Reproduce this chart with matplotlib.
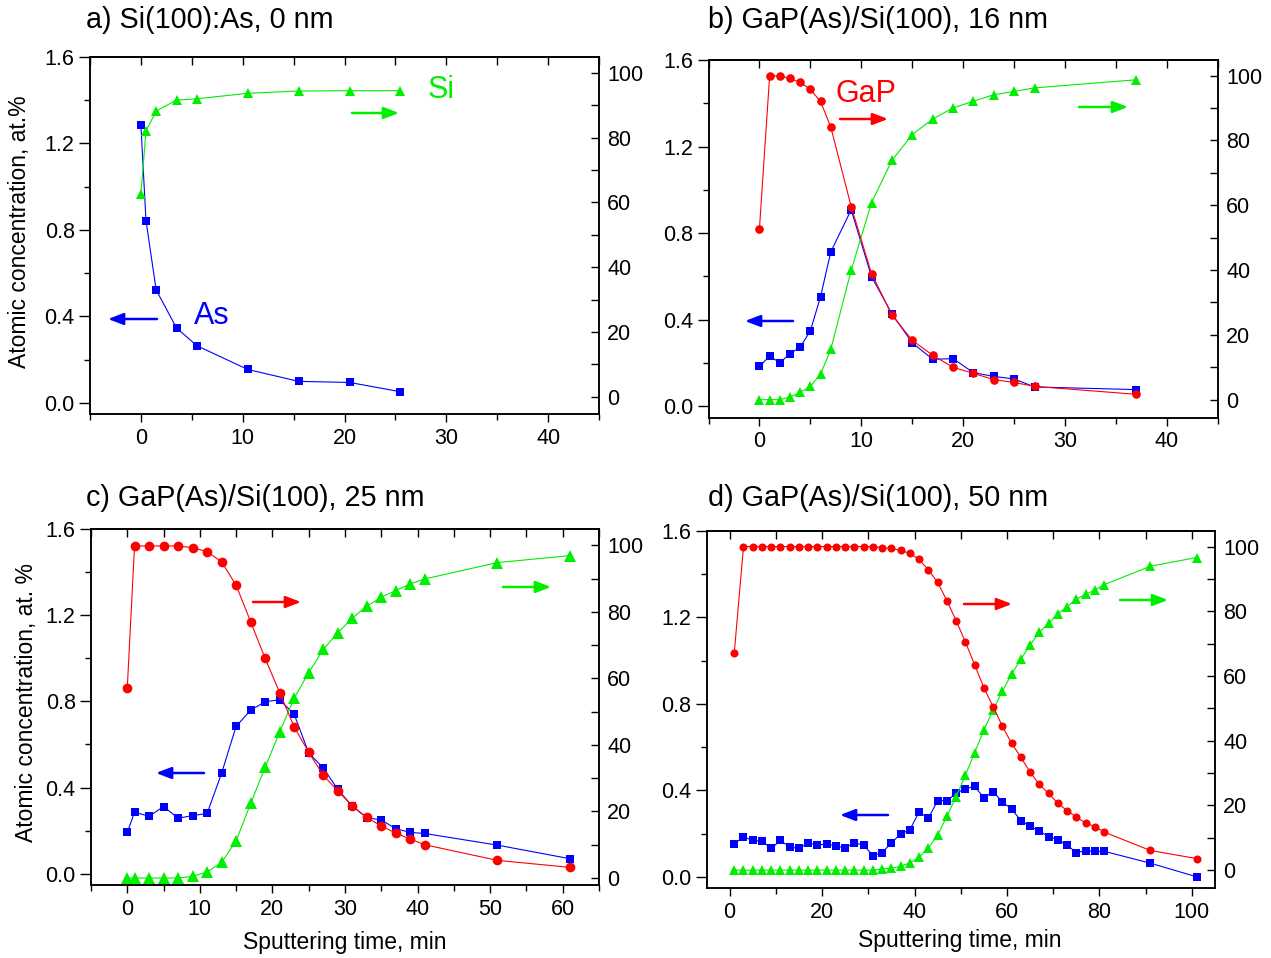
import matplotlib
matplotlib.use("Agg")
import matplotlib.pyplot as plt
from matplotlib.ticker import MultipleLocator, FormatStrFormatter

plt.rcParams['font.family'] = ['Liberation Sans', 'DejaVu Sans']

W, H = 1271, 958

# ---------------- data ----------------
# panel a : Si(100):As, 0 nm
a_time = [0, 0.5, 1.5, 3.5, 5.5, 10.5, 15.5, 20.5, 25.5]
a_As = [1.285, 0.843, 0.522, 0.346, 0.264, 0.154, 0.099, 0.094, 0.051]
a_Si = [62.5, 82.1, 88.2, 91.6, 92.0, 93.7, 94.4, 94.5, 94.5]

# panel b : GaP(As)/Si(100), 16 nm
b_time = [0, 1, 2, 3, 4, 5, 6, 7, 9, 11, 13, 15, 17, 19, 21, 23, 25, 27, 37]
b_As = [0.184, 0.232, 0.201, 0.243, 0.273, 0.349, 0.507, 0.713, 0.908, 0.599,
        0.427, 0.293, 0.217, 0.220, 0.155, 0.138, 0.126, 0.089, 0.077]
b_GaP = [52.8, 99.9, 99.9, 99.1, 97.9, 95.7, 92.0, 84.1, 59.6, 38.9,
         26.1, 18.3, 13.7, 10.0, 8.1, 6.2, 5.3, 4.1, 1.65]
b_Si = [0.0, 0.0, 0.0, 0.8, 2.3, 4.1, 7.9, 15.5, 39.9, 60.8,
        73.8, 81.8, 86.6, 90.0, 92.1, 94.1, 95.1, 96.2, 98.7]

# panel c : GaP(As)/Si(100), 25 nm
c_time = [0, 1, 3, 5, 7, 9, 11, 13, 15, 17, 19, 21, 23, 25, 27, 29, 31, 33,
          35, 37, 39, 41, 51, 61]
c_As = [0.192, 0.286, 0.267, 0.312, 0.258, 0.270, 0.280, 0.467, 0.685, 0.759,
        0.799, 0.807, 0.740, 0.561, 0.491, 0.392, 0.314, 0.260, 0.250, 0.209,
        0.192, 0.187, 0.133, 0.070]
c_GaP = [57.2, 99.8, 99.8, 99.8, 99.8, 99.3, 98.1, 95.0, 88.0, 77.0,
         66.0, 55.7, 45.4, 37.8, 30.9, 26.2, 21.7, 18.2, 15.6, 13.5,
         11.7, 10.0, 5.3, 3.2]
c_Si = [0.0, 0.0, 0.0, 0.0, 0.0, 0.5, 1.8, 4.7, 11.2, 22.4,
        33.3, 43.9, 54.1, 61.7, 68.7, 73.7, 78.1, 81.7, 84.4, 86.4,
        88.4, 89.9, 94.8, 96.9]

# panel d : GaP(As)/Si(100), 50 nm
d_time = [1, 3, 5, 7, 9, 11, 13, 15, 17, 19, 21, 23, 25, 27, 29, 31, 33, 35,
          37, 39, 41, 43, 45, 47, 49, 51, 53, 55, 57, 59, 61, 63, 65, 67, 69,
          71, 73, 75, 77, 79, 81, 91, 101]
d_As = [0.152, 0.185, 0.168, 0.165, 0.131, 0.168, 0.138, 0.131, 0.157, 0.146,
        0.152, 0.142, 0.134, 0.157, 0.146, 0.098, 0.112, 0.157, 0.198, 0.218,
        0.300, 0.271, 0.352, 0.352, 0.386, 0.408, 0.418, 0.366, 0.394, 0.346,
        0.314, 0.260, 0.234, 0.212, 0.186, 0.172, 0.146, 0.112, 0.120, 0.118,
        0.118, 0.063, 0.0]
d_GaP = [67.0, 100.0, 100.0, 100.0, 100.0, 100.0, 100.0, 100.0, 100.0, 100.0,
         100.0, 100.0, 100.0, 100.0, 100.0, 100.0, 99.7, 99.4, 98.8, 97.9,
         96.0, 92.8, 88.9, 83.3, 77.1, 70.5, 63.5, 56.4, 50.5, 44.5,
         39.2, 34.9, 30.3, 26.5, 23.7, 20.7, 18.4, 16.4, 14.6, 13.5,
         11.8, 6.1, 3.6]
d_Si = [0.0, 0.0, 0.0, 0.0, 0.0, 0.0, 0.0, 0.0, 0.0, 0.0,
        0.0, 0.0, 0.0, 0.0, 0.0, 0.0, 0.4, 0.6, 1.2, 2.3,
        4.0, 6.9, 10.8, 16.7, 22.7, 29.3, 36.3, 43.3, 49.5, 55.3,
        60.6, 65.2, 69.6, 73.5, 76.3, 79.2, 81.4, 83.8, 85.2, 86.6,
        88.2, 93.9, 96.6]

titles = ["a) Si(100):As, 0 nm", "b) GaP(As)/Si(100), 16 nm",
          "c) GaP(As)/Si(100), 25 nm", "d) GaP(As)/Si(100), 50 nm"]

BLUE = '#0000FF'
RED = '#FF0000'
GREEN = '#00EE00'


def fx(x):
    return x / W


def fy(y):
    return 1 - y / H


fig = plt.figure(figsize=(W / 100, H / 100), dpi=100)


def make_axes(l, r, t, b, xlim, xmaj, rylim):
    ax = fig.add_axes([fx(l), fy(b), (r - l) / W, (b - t) / H])
    ax2 = ax.twinx()
    ax.set_xlim(*xlim)
    ax.set_ylim(-0.052, 1.6)
    ax2.set_ylim(*rylim)
    ax.xaxis.set_major_locator(MultipleLocator(xmaj))
    ax.xaxis.set_minor_locator(MultipleLocator(xmaj / 2))
    ax.yaxis.set_major_locator(MultipleLocator(0.4))
    ax.yaxis.set_minor_locator(MultipleLocator(0.2))
    ax.yaxis.set_major_formatter(FormatStrFormatter('%.1f'))
    ax2.yaxis.set_major_locator(MultipleLocator(20))
    ax2.yaxis.set_minor_locator(MultipleLocator(10))
    ax.tick_params(axis='x', which='major', direction='out', length=6,
                   width=1, labelsize=15.5, pad=4)
    ax.tick_params(axis='x', which='minor', direction='out', length=4, width=1)
    ax.tick_params(axis='y', which='major', direction='out', length=8,
                   width=1, labelsize=15.5, pad=3)
    ax.tick_params(axis='y', which='minor', direction='out', length=4, width=1)
    ax2.tick_params(axis='y', which='both', direction='in', length=6,
                    width=1, labelsize=15.5, pad=6)
    top = ax.secondary_xaxis('top')
    top.xaxis.set_major_locator(MultipleLocator(xmaj))
    top.xaxis.set_minor_locator(MultipleLocator(xmaj / 2))
    top.tick_params(axis='x', which='both', direction='in', length=6,
                    width=1, labeltop=False)
    for a in (ax, ax2):
        for s in a.spines.values():
            s.set_linewidth(1.1)
    top.spines['top'].set_linewidth(1.1)
    return ax, ax2


def arrow(x0, y0, x1, y1, color):
    fig.add_artist(matplotlib.patches.FancyArrowPatch(
        (fx(x0), fy(y0)), (fx(x1), fy(y1)), transform=fig.transFigure,
        arrowstyle=matplotlib.patches.ArrowStyle('-|>', head_length=0.65,
                                                 head_width=0.25),
        mutation_scale=14, color=color, lw=1.8, shrinkA=0, shrinkB=0))


lw = 0.8

# ---- panel a ----
ax, ax2 = make_axes(90, 599, 57, 414, (-5, 45), 10, (-5.3, 104.9))
ax.plot(a_time, a_As, '-s', color=BLUE, lw=lw, ms=5.8, mew=0)
ax2.plot(a_time, a_Si, '-^', color=GREEN, lw=lw, ms=7.8, mew=0)

# ---- panel b ----
ax, ax2 = make_axes(708.5, 1218, 60, 417.5, (-5, 45), 10, (-5.5, 104.8))
ax.plot(b_time, b_As, '-s', color=BLUE, lw=lw, ms=5.8, mew=0)
ax2.plot(b_time, b_Si, '-^', color=GREEN, lw=lw, ms=7.8, mew=0)
ax2.plot(b_time, b_GaP, '-o', color=RED, lw=lw, ms=6.2, mew=0)

# ---- panel c ----
ax, ax2 = make_axes(91, 599, 529, 885, (-5, 65), 10, (-2.1, 104.9))
ax.plot(c_time, c_As, '-s', color=BLUE, lw=lw, ms=6.3, mew=0)
ax2.plot(c_time, c_Si, '-^', color=GREEN, lw=lw, ms=8.8, mew=0)
ax2.plot(c_time, c_GaP, '-o', color=RED, lw=lw, ms=7, mew=0)

# ---- panel d ----
ax, ax2 = make_axes(706.5, 1215, 531, 888, (-5, 105), 20, (-5.5, 104.8))
ax.plot(d_time, d_As, '-s', color=BLUE, lw=lw, ms=5.5, mew=0)
ax2.plot(d_time, d_Si, '-^', color=GREEN, lw=lw, ms=7.2, mew=0)
ax2.plot(d_time, d_GaP, '-o', color=RED, lw=lw, ms=5.8, mew=0)

# ---- titles ----
for (x, y), t in zip([(86, 20), (708, 20), (86, 498), (708, 498)], titles):
    fig.text(fx(x), fy(y), t, ha='left', va='center', fontsize=20.7)

# ---- axis labels ----
fig.text(fx(20), fy(232), 'Atomic concentration, at.%', rotation=90,
         ha='center', va='center', fontsize=16.5)
fig.text(fx(27), fy(702), 'Atomic concentration, at. %', rotation=90,
         ha='center', va='center', fontsize=16.5)
fig.text(fx(345), fy(942), 'Sputtering time, min', ha='center', va='center',
         fontsize=16.5)
fig.text(fx(960), fy(940), 'Sputtering time, min', ha='center', va='center',
         fontsize=16.5)

# ---- element labels ----
fig.text(fx(441), fy(90), 'Si', color=GREEN, ha='center', va='center',
         fontsize=22)
fig.text(fx(212), fy(316), 'As', color=BLUE, ha='center', va='center',
         fontsize=22)
fig.text(fx(866), fy(94), 'GaP', color=RED, ha='center', va='center',
         fontsize=22)

# ---- arrows ----
arrow(352, 113, 399, 113, GREEN)
arrow(157, 319, 108, 319, BLUE)
arrow(840, 119, 888, 119, RED)
arrow(1079, 107, 1128, 107, GREEN)
arrow(793, 321, 745, 321, BLUE)
arrow(253, 602, 301, 602, RED)
arrow(503, 587, 551, 587, GREEN)
arrow(204, 773, 156, 773, BLUE)
arrow(964, 604, 1012, 604, RED)
arrow(1120, 600, 1168, 600, GREEN)
arrow(888, 815, 840, 815, BLUE)

fig.savefig('out.png', dpi=100)
